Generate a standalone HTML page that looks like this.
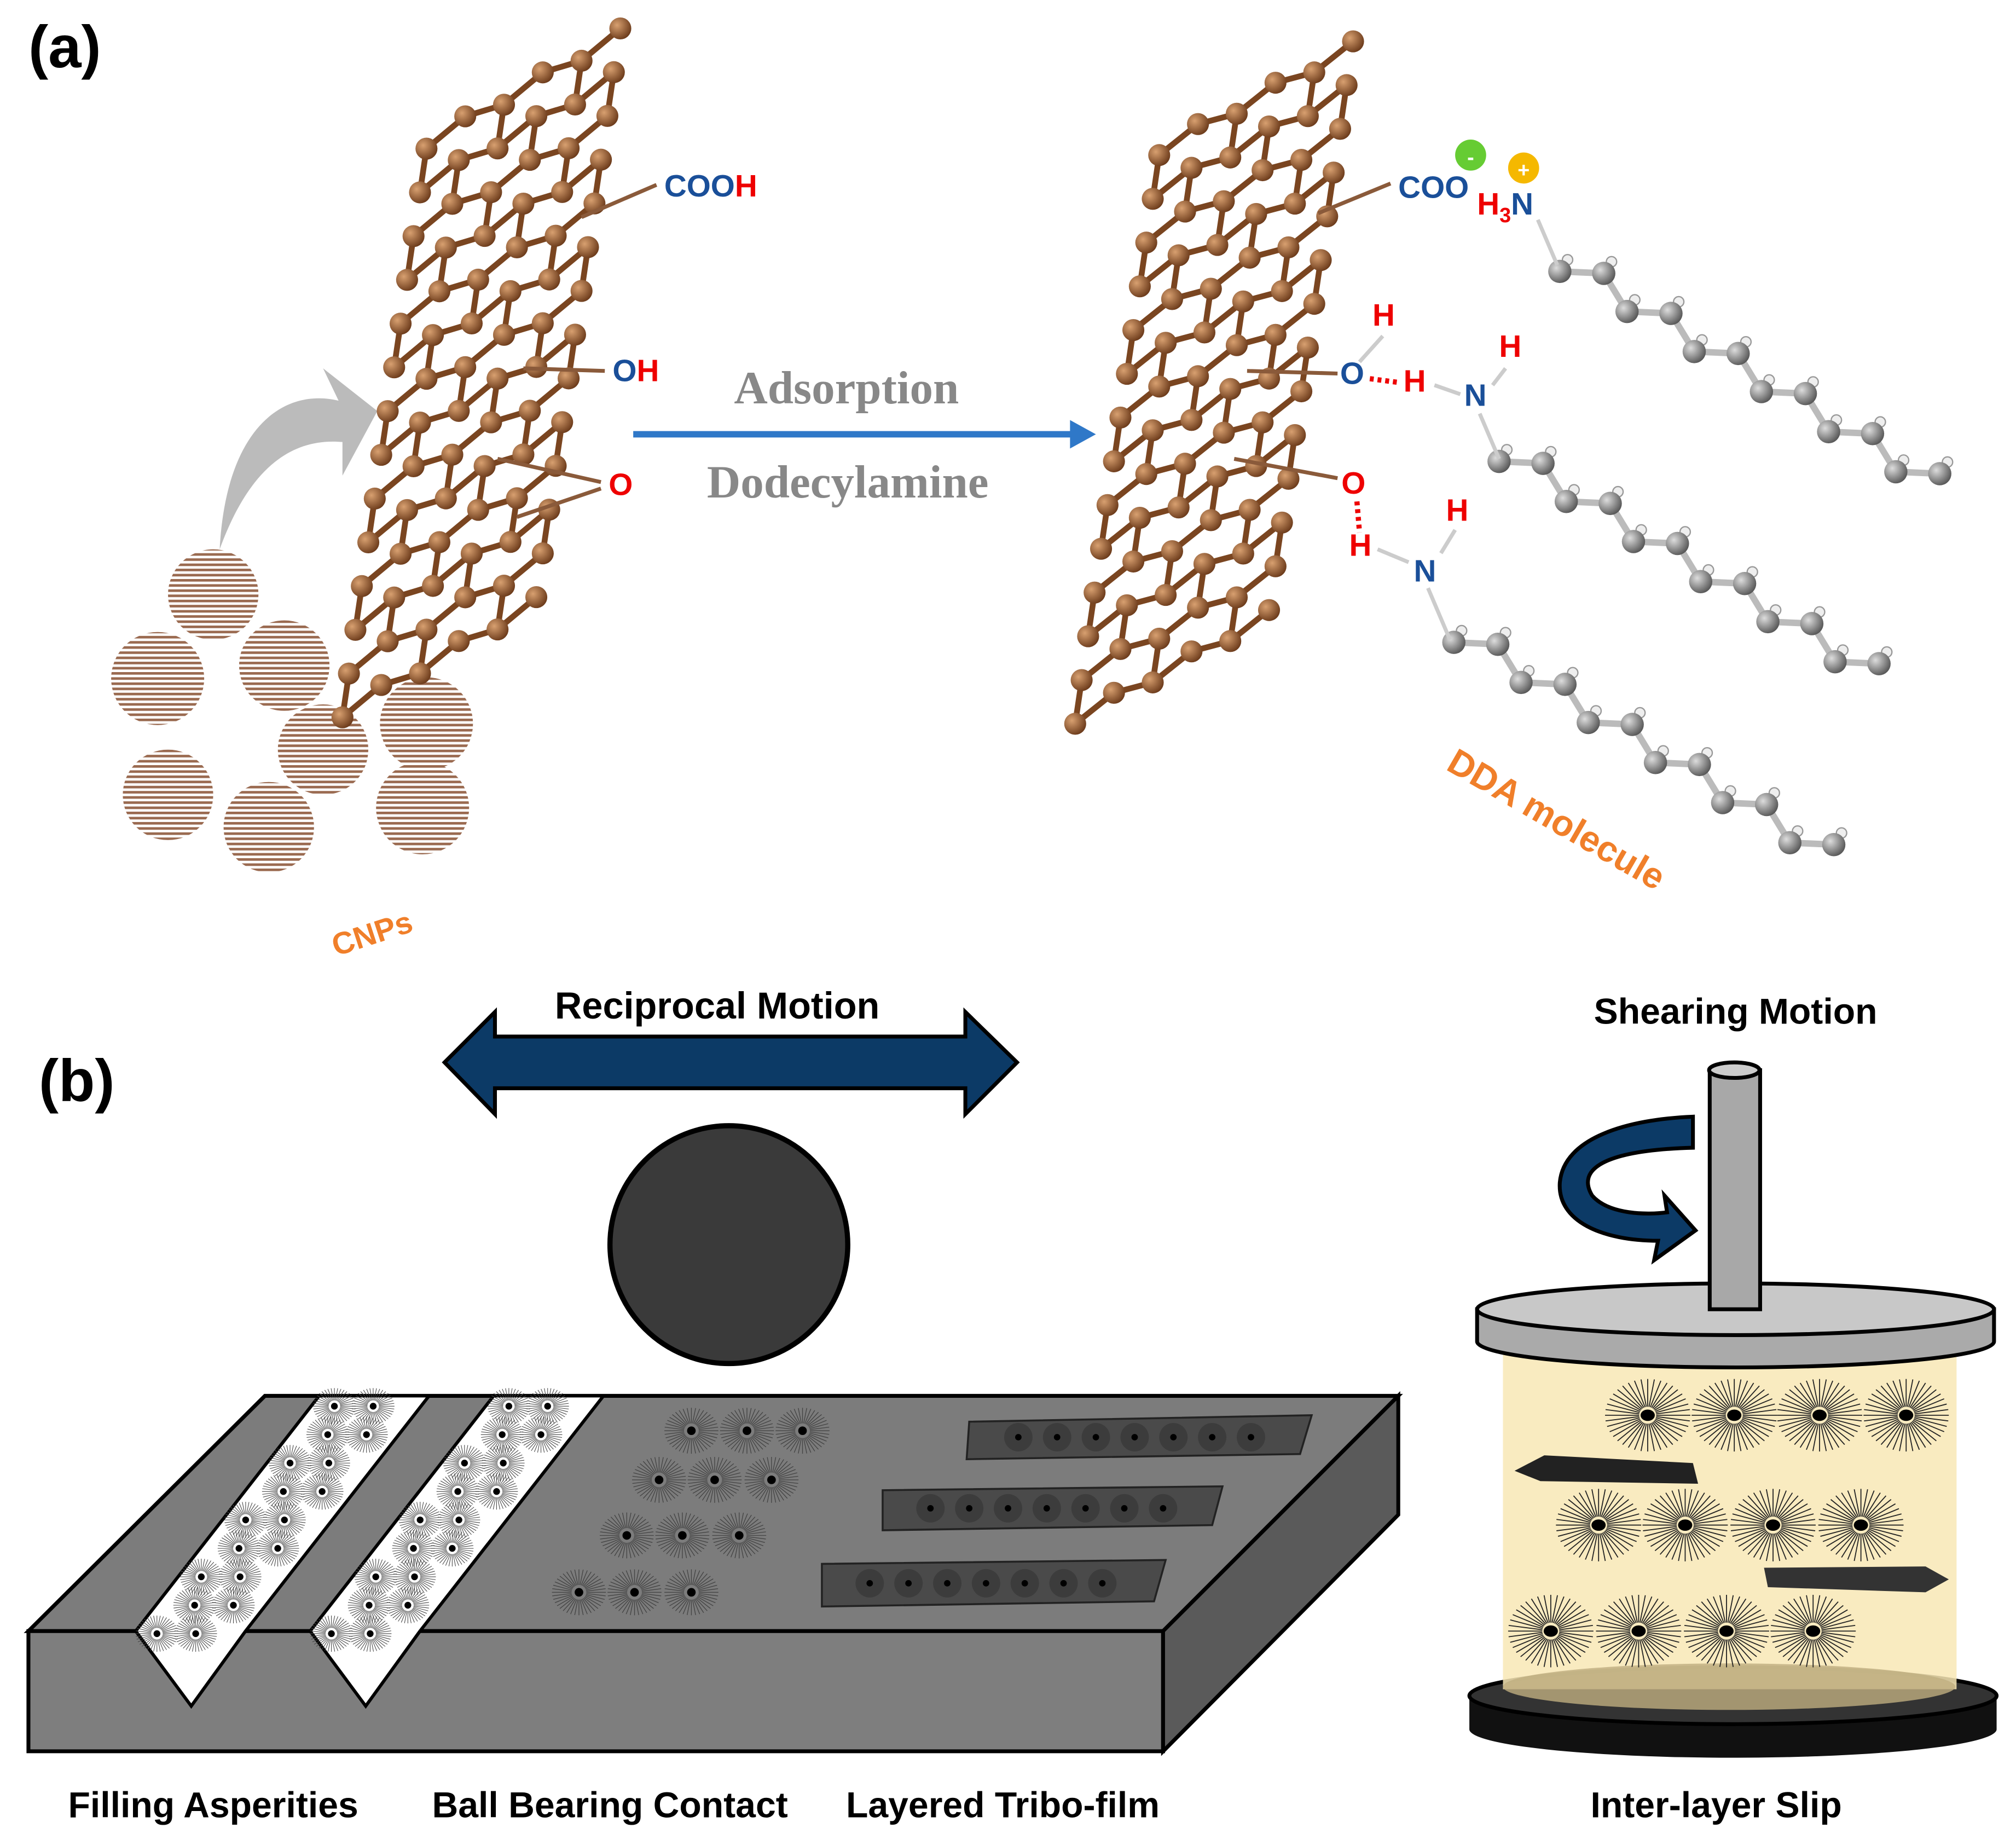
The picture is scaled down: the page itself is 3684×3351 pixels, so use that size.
<!DOCTYPE html>
<html><head><meta charset="utf-8"><style>
html,body{margin:0;padding:0;background:#fff}
svg{display:block}
.s{font-family:"Liberation Sans",sans-serif;font-weight:bold}
.r{font-family:"Liberation Serif",serif;font-weight:bold}
</style></head><body>
<svg id="g" xmlns="http://www.w3.org/2000/svg" width="3684" height="3351" viewBox="0 0 1560 1419" preserveAspectRatio="none">
<defs>
<g id="sb"><g id="sbl" stroke="#222" stroke-width="0.7"></g><ellipse cx="0" cy="0" rx="5" ry="4" fill="#000"/></g>
<g id="sbg"><g id="sbgl" stroke="#444" stroke-width="0.6"></g><circle r="3.5" fill="#000"/></g>
<radialGradient id="bb" cx="35%" cy="35%" r="70%"><stop offset="0" stop-color="#d8a070"/><stop offset="1" stop-color="#6b3a1a"/></radialGradient>
<radialGradient id="gb" cx="35%" cy="35%" r="70%"><stop offset="0" stop-color="#ddd"/><stop offset="1" stop-color="#555"/></radialGradient>
<pattern id="str" width="4" height="4" patternUnits="userSpaceOnUse"><rect width="4" height="4" fill="#fff"/><rect width="4" height="2" fill="#9a6a50"/></pattern>
</defs>
<text x="22" y="52" class="s" font-size="46">(a)</text>
<g id="cnps" fill="url(#str)"></g>
<path d="M170,425 C175,330 220,300 262,310 L250,285 L292,318 L265,368 L265,342 C220,338 190,370 170,425 Z" fill="#bbb"/>
<g id="sheetL"></g>
<g id="sheetR"></g>
<g id="chains"></g>
<g stroke="#8a5a3a" stroke-width="3" fill="none">
<line x1="450" y1="168" x2="508" y2="143"/><line x1="405" y1="285" x2="468" y2="287"/>
<line x1="385" y1="355" x2="465" y2="373"/><line x1="400" y1="400" x2="465" y2="378"/>
<line x1="1020" y1="165" x2="1076" y2="142"/><line x1="965" y1="287" x2="1035" y2="289"/>
<line x1="955" y1="355" x2="1035" y2="370"/>
</g>
<text x="514" y="152" class="s" font-size="24" fill="#1a4f99">COO<tspan fill="#e00">H</tspan></text>
<text x="474" y="295" class="s" font-size="24" fill="#1a4f99">O<tspan fill="#e00">H</tspan></text>
<text x="471" y="383" class="s" font-size="24" fill="#e00">O</text>
<line x1="490" y1="336" x2="830" y2="336" stroke="#2f78c8" stroke-width="5"/>
<path d="M828,325 L848,336 L828,347 Z" fill="#2f78c8"/>
<text x="655" y="312" class="r" font-size="36" fill="#888" text-anchor="middle">Adsorption</text>
<text x="656" y="385" class="r" font-size="36" fill="#888" text-anchor="middle">Dodecylamine</text>
<text x="1082" y="153" class="s" font-size="24" fill="#1a4f99">COO</text>
<circle cx="1138" cy="120" r="12" fill="#6c3"/><text x="1138" y="127" font-size="16" text-anchor="middle" fill="#fff" class="s">-</text>
<circle cx="1179" cy="130" r="12" fill="#f5b800"/><text x="1179" y="137" font-size="16" text-anchor="middle" fill="#fff" class="s">+</text>
<text x="1143" y="166" class="s" font-size="24" fill="#e00">H<tspan font-size="16" dy="6">3</tspan><tspan dy="-6" fill="#1a4f99">N</tspan></text>
<text x="1037" y="297" class="s" font-size="24" fill="#1a4f99">O</text>
<text x="1062" y="252" class="s" font-size="24" fill="#e00">H</text>
<text x="1086" y="303" class="s" font-size="24" fill="#e00">H</text>
<text x="1133" y="314" class="s" font-size="24" fill="#1a4f99">N</text>
<text x="1160" y="276" class="s" font-size="24" fill="#e00">H</text>
<text x="1038" y="382" class="s" font-size="24" fill="#e00">O</text>
<text x="1044" y="430" class="s" font-size="24" fill="#e00">H</text>
<text x="1094" y="450" class="s" font-size="24" fill="#1a4f99">N</text>
<text x="1119" y="403" class="s" font-size="24" fill="#e00">H</text>
<g stroke="#ccc" stroke-width="3"><line x1="1070" y1="260" x2="1052" y2="280"/><line x1="1110" y1="298" x2="1130" y2="305"/><line x1="1165" y1="285" x2="1155" y2="298"/><line x1="1066" y1="425" x2="1090" y2="435"/><line x1="1126" y1="410" x2="1115" y2="428"/><line x1="1190" y1="170" x2="1205" y2="205"/><line x1="1145" y1="320" x2="1160" y2="355"/><line x1="1105" y1="455" x2="1122" y2="495"/></g>
<g stroke="#e00" stroke-width="4" stroke-dasharray="3,3"><line x1="1060" y1="293" x2="1083" y2="296"/><line x1="1050" y1="388" x2="1052" y2="412"/></g>
<text class="s" font-size="28" fill="#f07f2a" transform="translate(1118,595) rotate(30)">DDA molecule</text>
<text class="s" font-size="24" fill="#f07f2a" transform="translate(260,740) rotate(-18)">CNPs</text>

<text x="30" y="852" class="s" font-size="46">(b)</text>
<text x="555" y="788" class="s" font-size="29" text-anchor="middle">Reciprocal Motion</text>
<path d="M344,822 L383,783 L383,802 L747,802 L747,783 L787,822 L747,862 L747,842 L383,842 L383,862 Z" fill="#0c3a66" stroke="#000" stroke-width="3"/>
<circle cx="564" cy="963" r="92" fill="#3a3a3a" stroke="#000" stroke-width="4"/>
<polygon points="22,1262 205,1080 1082,1080 900,1262" fill="#7c7c7c" stroke="#000" stroke-width="3"/>
<polygon points="22,1262 900,1262 900,1355 22,1355" fill="#7e7e7e" stroke="#000" stroke-width="3"/>
<polygon points="900,1262 1082,1080 1082,1172 900,1355" fill="#5a5a5a" stroke="#000" stroke-width="3"/>
<polygon points="247,1080 332,1080 190,1262 148,1320 105,1262" fill="#fff" stroke="#000" stroke-width="2.5"/>
<polygon points="382,1080 467,1080 325,1262 283,1320 240,1262" fill="#fff" stroke="#000" stroke-width="2.5"/>
<g id="groovep"></g>
<g id="film" fill="#4a4a4a" stroke="#222" stroke-width="1.5">
<polygon points="750,1100 1015,1095 1006,1125 748,1129"/>
<polygon points="683,1153 946,1150 938,1180 683,1184"/>
<polygon points="636,1210 902,1207 893,1239 636,1243"/>
</g>
<g id="filmp"></g>
<text x="165" y="1406" class="s" font-size="28" text-anchor="middle">Filling Asperities</text>
<text x="472" y="1406" class="s" font-size="28" text-anchor="middle">Ball Bearing Contact</text>
<text x="776" y="1406" class="s" font-size="28" text-anchor="middle">Layered Tribo-film</text>
<text x="1328" y="1406" class="s" font-size="28" text-anchor="middle">Inter-layer Slip</text>
<text x="1343" y="792" class="s" font-size="28" text-anchor="middle">Shearing Motion</text>
<path d="M1137,1312 L1137,1338 A204,22 0 0 0 1545,1338 L1545,1312 Z" fill="#111"/>
<ellipse cx="1341" cy="1312" rx="204" ry="22" fill="#333" stroke="#000" stroke-width="3"/>
<rect x="1163" y="1045" width="351" height="262" fill="#f8e7b5" opacity="0.85"/>
<ellipse cx="1338" cy="1305" rx="175" ry="18" fill="#bfae80" opacity="0.8"/>
<g id="cellp"></g>
<polygon points="1172,1138 1195,1126 1310,1132 1314,1148 1192,1146" fill="#222"/>
<polygon points="1365,1213 1490,1212 1508,1222 1490,1232 1368,1228" fill="#333"/>
<path d="M1143,1013 L1143,1038 A200,20 0 0 0 1543,1038 L1543,1013 Z" fill="#aaa" stroke="#000" stroke-width="3"/>
<ellipse cx="1343" cy="1013" rx="200" ry="20" fill="#c8c8c8" stroke="#000" stroke-width="3"/>
<rect x="1323" y="828" width="39" height="185" fill="#a8a8a8" stroke="#000" stroke-width="3"/>
<ellipse cx="1342" cy="828" rx="19.5" ry="6" fill="#ccc" stroke="#000" stroke-width="3"/>
<path d="M1310,864 L1310,888 C1240,890 1220,905 1232,925 C1245,940 1275,940 1290,938 L1288,925 L1312,952 L1280,975 L1283,960 C1240,960 1205,945 1207,915 C1210,880 1260,866 1310,864 Z" fill="#0c3a66" stroke="#000" stroke-width="3"/>
</svg>
<script>
var NS="http://www.w3.org/2000/svg";
function el(p,t,a){var e=document.createElementNS(NS,t);for(var k in a)e.setAttribute(k,a[k]);p.appendChild(e);return e;}
[["sbl",30],["sbgl",22]].forEach(function(q){var g=document.getElementById(q[0]);for(var i=0;i<40;i++){var a=i*Math.PI/20;el(g,"line",{x1:6*Math.cos(a),y1:6*Math.sin(a),x2:q[1]*Math.cos(a),y2:q[1]*Math.sin(a)*0.85});}});
var cn=document.getElementById("cnps");
[[165,460,35],[122,525,36],[220,515,35],[250,580,35],[330,560,36],[130,615,35],[208,640,35],[327,625,36]].forEach(function(c){el(cn,"circle",{cx:c[0],cy:c[1],r:c[2]});});
function sheet(id,ox,oy,ux,uy,vx,vy){
 var g=document.getElementById(id),C=6,R=14,pts=[];
 for(var r=0;r<R;r++){pts[r]=[];for(var c=0;c<C;c++){var a=c/(C-1),b=r/(R-1);var x=ox+ux*a+vx*b,y=oy+uy*a+vy*b+((c%2)?-8:0);pts[r][c]=[x,y];}}
 var lg=el(g,"g",{stroke:"#7a4520","stroke-width":4.5});
 for(var r=0;r<R;r++)for(var c=0;c<C;c++){var p=pts[r][c];
  if(c<C-1)el(lg,"line",{x1:p[0],y1:p[1],x2:pts[r][c+1][0],y2:pts[r][c+1][1]});
  if(r<R-1&&(r+c)%2==0)el(lg,"line",{x1:p[0],y1:p[1],x2:pts[r+1][c][0],y2:pts[r+1][c][1]});}
 for(var r=0;r<R;r++)for(var c=0;c<C;c++)el(g,"circle",{cx:pts[r][c][0],cy:pts[r][c][1],r:8.5,fill:"url(#bb)"});
}
sheet("sheetL",265,555,150,-85,65,-440);
sheet("sheetR",832,560,150,-80,65,-440);
var ch=document.getElementById("chains");
function chain(x,y,n){var pts=[];for(var i=0;i<n;i++){pts.push([x+i*26+(i%2?8:0),y+i*15.5+(i%2?-14:0)]);}
 for(var i=0;i<n-1;i++)el(ch,"line",{x1:pts[i][0],y1:pts[i][1],x2:pts[i+1][0],y2:pts[i+1][1],stroke:"#bbb","stroke-width":5});
 pts.forEach(function(p){el(ch,"circle",{cx:p[0]+6,cy:p[1]-9,r:4,fill:"#eee",stroke:"#999"});el(ch,"circle",{cx:p[0],cy:p[1],r:9,fill:"url(#gb)"});});}
chain(1207,210,12);chain(1160,357,12);chain(1125,497,12);
var gp=document.getElementById("groovep");
function uses(p,sym,list,s){list.forEach(function(q){el(p,"use",{href:"#"+sym,transform:"translate("+q[0]+","+q[1]+") scale("+(s||1)+")"});});}
var L=[];[[0,0],[135,0]].forEach(function(o){for(var r=0;r<9;r++){var y=1088+r*22,t=(y-1080)/182;var xl=247-t*142+o[0],xr=332-t*142+o[0];for(var x=xl+18+(r%2)*12;x<xr-8;x+=30)L.push([x,y]);}});
uses(gp,"sbg",L,0.75);
var bp=[[535,1107],[578,1107],[621,1107],[510,1145],[553,1145],[597,1145],[485,1188],[528,1188],[572,1188],[448,1232],[491,1232],[535,1232]];
uses(gp,"sbg",bp,0.95);
var fp=document.getElementById("filmp"),F=[];
for(var i=0;i<7;i++){F.push([788+i*30,1112]);F.push([720+i*30,1167]);F.push([673+i*30,1225]);}
F.forEach(function(q){el(fp,"circle",{cx:q[0],cy:q[1],r:11,fill:"#333",opacity:0.6});el(fp,"circle",{cx:q[0],cy:q[1],r:2.5,fill:"#000"});});
var cp=document.getElementById("cellp"),P=[];
[1275,1342,1408,1475].forEach(function(x){P.push([x,1095]);});
[1237,1304,1372,1440].forEach(function(x){P.push([x,1180]);});
[1200,1268,1336,1403].forEach(function(x){P.push([x,1262]);});
uses(cp,"sb",P,1.1);
</script>
</body></html>
